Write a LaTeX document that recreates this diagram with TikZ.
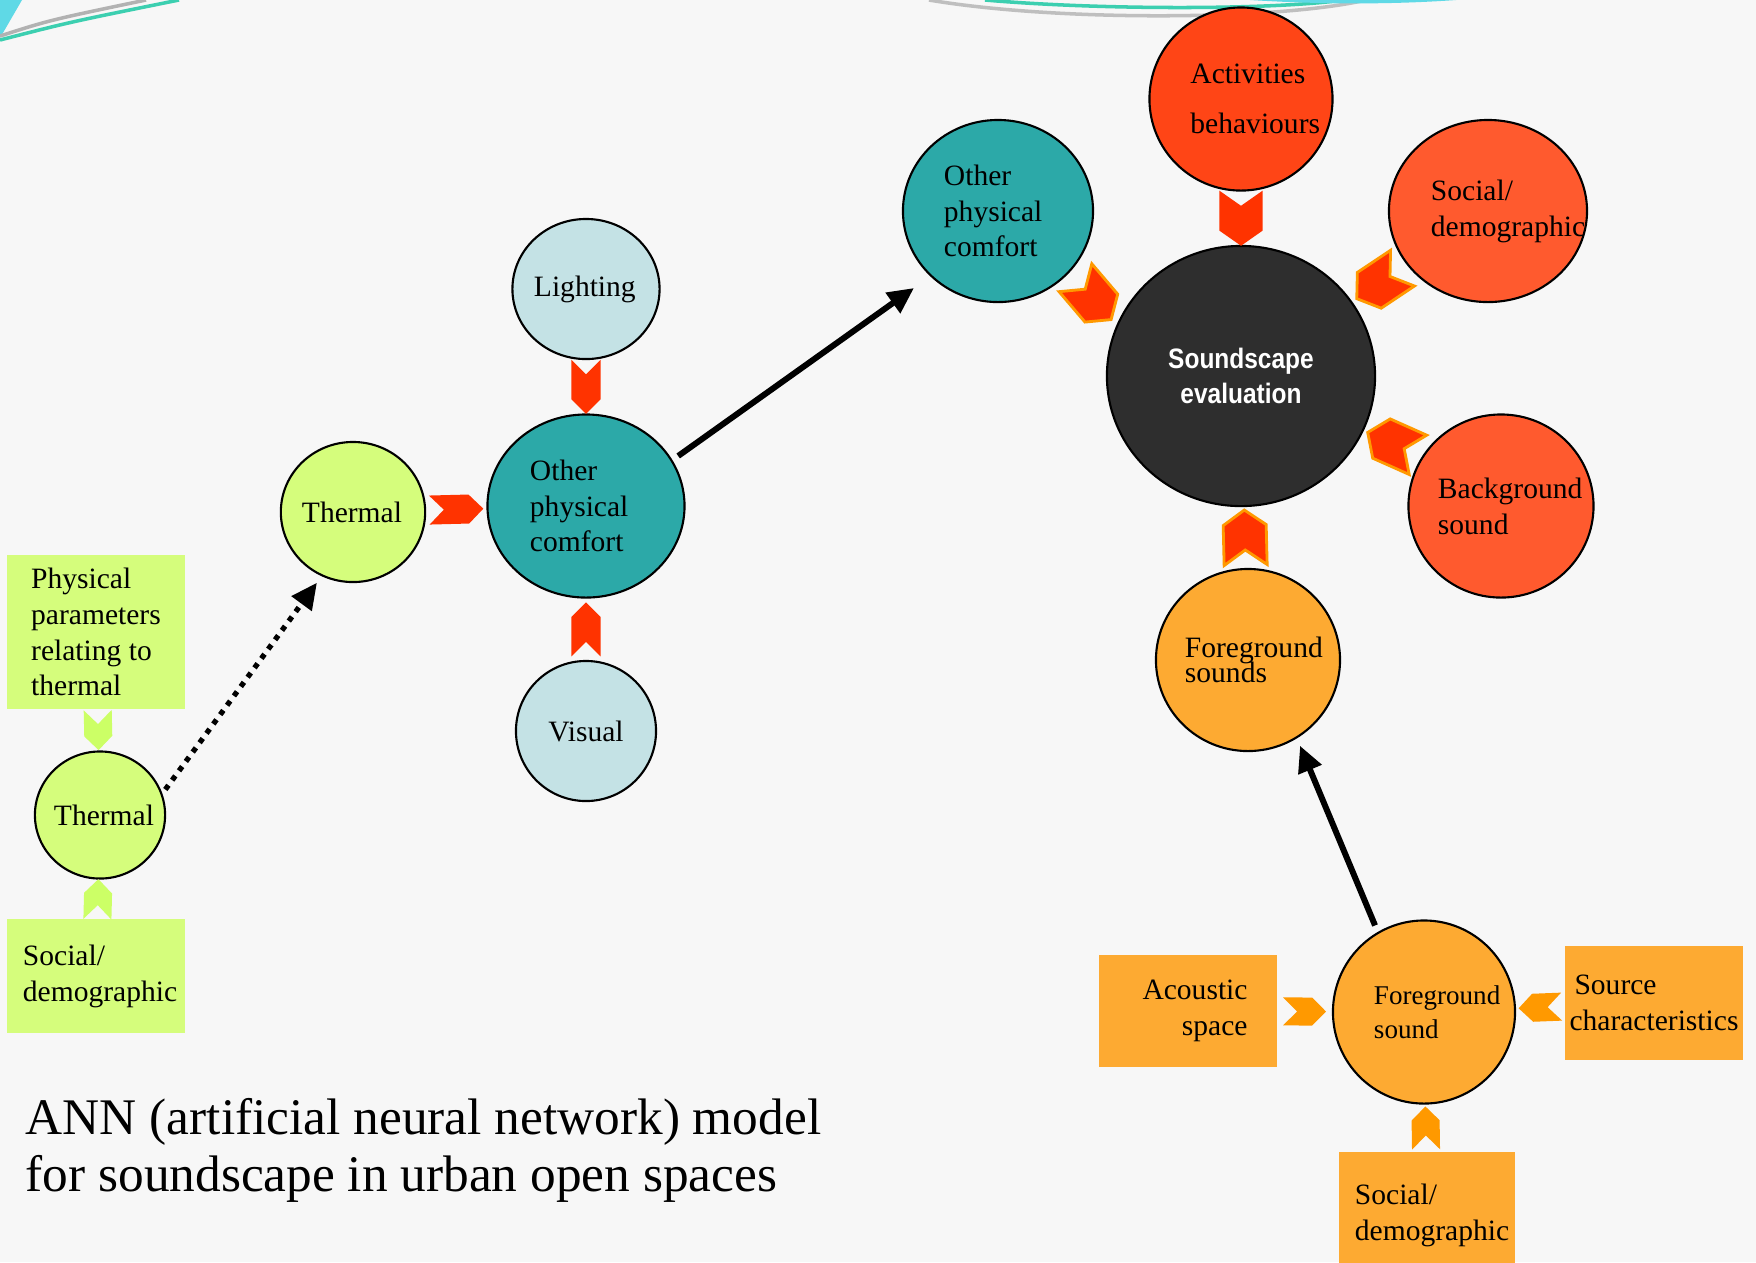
\documentclass[tikz,border=0pt]{standalone}
\usepackage{fontspec}
\setmainfont{Liberation Serif}
\newfontfamily\sefont[FakeStretch=0.87]{Liberation Sans}
\usetikzlibrary{shapes.geometric,shapes.symbols,arrows.meta}
\hyphenpenalty=10000
\exhyphenpenalty=10000

\definecolor{bgcol}{HTML}{F7F7F7}
\definecolor{chevred}{HTML}{FF3300}
\definecolor{chevorange}{HTML}{FF9900}
\definecolor{chevgreen}{HTML}{CCFF66}
\definecolor{actred}{HTML}{FF4516}
\definecolor{socred}{HTML}{FF5A2E}
\definecolor{tealc}{HTML}{2CA9A8}
\definecolor{ltblue}{HTML}{C4E2E5}
\definecolor{lgreen}{HTML}{D5FD7C}
\definecolor{orangec}{HTML}{FDAA32}
\definecolor{darkc}{HTML}{2E2E2E}
\definecolor{decocyan}{HTML}{5FD9E6}
\definecolor{decoteal}{HTML}{3CCFB0}

\begin{document}
\begin{tikzpicture}[x=0.01cm,y=-0.01cm,
  bub/.style={ellipse,draw=black,line width=0.6pt,inner sep=0pt,align=left,
    font=\fontsize{8.4}{10.2}\selectfont},
  box/.style={rectangle,inner sep=0pt,align=left,
    font=\fontsize{8.4}{10.2}\selectfont},
  chev/.style={signal,signal from=west,signal to=east,inner sep=0pt,
    sloped,allow upside down,minimum width=0.54cm,minimum height=0.29cm,fill=chevred},
  chevbig/.style={chev,minimum width=0.55cm,minimum height=0.43cm,
    signal pointer angle=110,draw=chevorange,line width=0.8pt},
  chevgrn/.style={chev,fill=chevgreen,minimum width=0.40cm,minimum height=0.28cm},
  chevorg/.style={chev,fill=chevorange,minimum width=0.43cm,minimum height=0.28cm},
  link/.style={line width=1.7pt,-{Triangle[length=0.26cm,width=0.24cm]}}]

\useasboundingbox (0,0) rectangle (1756,1262);
\fill[bgcol] (0,0) rectangle (1756,1262);

%DECORATION
\fill[decocyan] (0,0) -- (22,0) -- (0,38) -- cycle;
\draw[gray!60,line width=1pt] (0,36) .. controls (50,20) .. (146,0);
\draw[decoteal,line width=1pt] (0,40) .. controls (70,22) .. (179,0);
\draw[gray!50,line width=1pt] (929,0) .. controls (1060,22) and (1280,20) .. (1366,0);
\draw[decoteal,line width=1pt] (985,0) .. controls (1100,10) and (1270,10) .. (1344,0);
\fill[decocyan] (1250,0) .. controls (1330,5) and (1400,4) .. (1456,0) -- cycle;
%DECORATION

\node[bub,fill=actred,minimum width=1.83cm,minimum height=1.83cm,text width=1.01cm,
  font=\fontsize{8.4}{14.2}\selectfont](act) at (1241,99) {Activities\\behaviours};
\node[bub,fill=socred,minimum width=1.98cm,minimum height=1.82cm,text width=1.14cm](soc) at (1488,211) {Social/\\demographic};
\node[bub,fill=tealc,minimum width=1.90cm,minimum height=1.82cm,text width=1.08cm](opc2) at (998,211) {Other\\physical\\comfort};
\node[ellipse,draw=black,line width=0.6pt,fill=darkc,minimum width=2.68cm,minimum height=2.60cm,
  align=center,text=white,font=\sefont\bfseries\fontsize{8}{10}\selectfont](se) at (1241,376) {Soundscape\\evaluation};
\node[bub,fill=socred,minimum width=1.85cm,minimum height=1.83cm,text width=1.26cm](bg) at (1501,506) {Background\\sound};
\node[bub,fill=orangec,minimum width=1.84cm,minimum height=1.82cm,text width=1.26cm](fgs) at (1248,660) {Foreground\\[-3.1pt]sounds};
\node[bub,fill=orangec,minimum width=1.82cm,minimum height=1.83cm,text width=1.00cm,
  font=\fontsize{7.7}{9.6}\selectfont](fg) at (1424,1012) {Foreground\\sound};

\node[box,fill=orangec,minimum width=1.77cm,minimum height=1.12cm,text width=1.19cm,align=right](acs) at (1188,1011) {Acoustic\\space};
\node[box,fill=orangec,minimum width=1.78cm,minimum height=1.13cm](src) at (1654,1003) {\hspace*{0.05cm}Source\\characteristics};
\node[box,fill=orangec,minimum width=1.75cm,minimum height=1.26cm,text width=1.44cm](socb) at (1427,1215) {Social/\\demographic};

\node[bub,fill=ltblue,minimum size=1.40cm,text width=1.04cm](lit) at (586,289) {Lighting};
\node[bub,fill=tealc,minimum width=1.97cm,minimum height=1.83cm,text width=1.12cm](opc) at (586,506) {Other\\physical\\comfort};
\node[bub,fill=ltblue,minimum size=1.40cm,align=center](vis) at (586,731) {Visual};
\node[bub,fill=lgreen,minimum size=1.40cm,text width=1.02cm](th) at (353,512) {Thermal};
\node[bub,fill=lgreen,minimum size=1.27cm,text width=0.92cm](th0) at (100,815) {Thermal};

\node[box,fill=lgreen,minimum width=1.77cm,minimum height=1.54cm](phys) at (96,632) {Physical\\parameters\\relating to\\thermal};
\node[box,fill=lgreen,minimum width=1.77cm,minimum height=1.13cm,text width=1.46cm](socl) at (96,976) {Social/\\demographic};

\node[anchor=north west,inner sep=0pt,align=left,
  font=\fontsize{14.6}{16.2}\selectfont](title) at (25,1098) {ANN (artificial neural network) model\\for soundscape in urban open spaces};

\path (lit) -- node[chev] {} (opc);
\path (vis) -- node[chev] {} (opc);
\path (th) -- node[chev] {} (opc);

\path (act) -- node[chevbig,draw=none] {} (se);
\path (opc2.-40) -- node[chevbig] {} (se.158);
\path (soc) -- node[chevbig] {} (se);
\path (bg.148) -- node[chevbig] {} (se.-24);
\path (fgs) -- node[chevbig] {} (se);

\path (phys) -- node[chevgrn] {} (th0);
\path (socl) -- node[chevgrn] {} (th0);

\path (acs) -- node[chevorg] {} (fg);
\path (src) -- node[chevorg] {} (fg);
\path (socb) -- node[chevorg] {} (fg);

\draw[link,shorten <=0.07cm,shorten >=0.2cm] (opc.28) -- (opc2.224);
\draw[link,shorten <=0.07cm,shorten >=0.08cm] (fg.120) -- (fgs.302);
\draw[link,line width=1.5pt,dash pattern=on 1.5pt off 1.8pt,shorten <=0.05cm,shorten >=0.08cm] (th0.19) -- (th.244);

\end{tikzpicture}
\end{document}
